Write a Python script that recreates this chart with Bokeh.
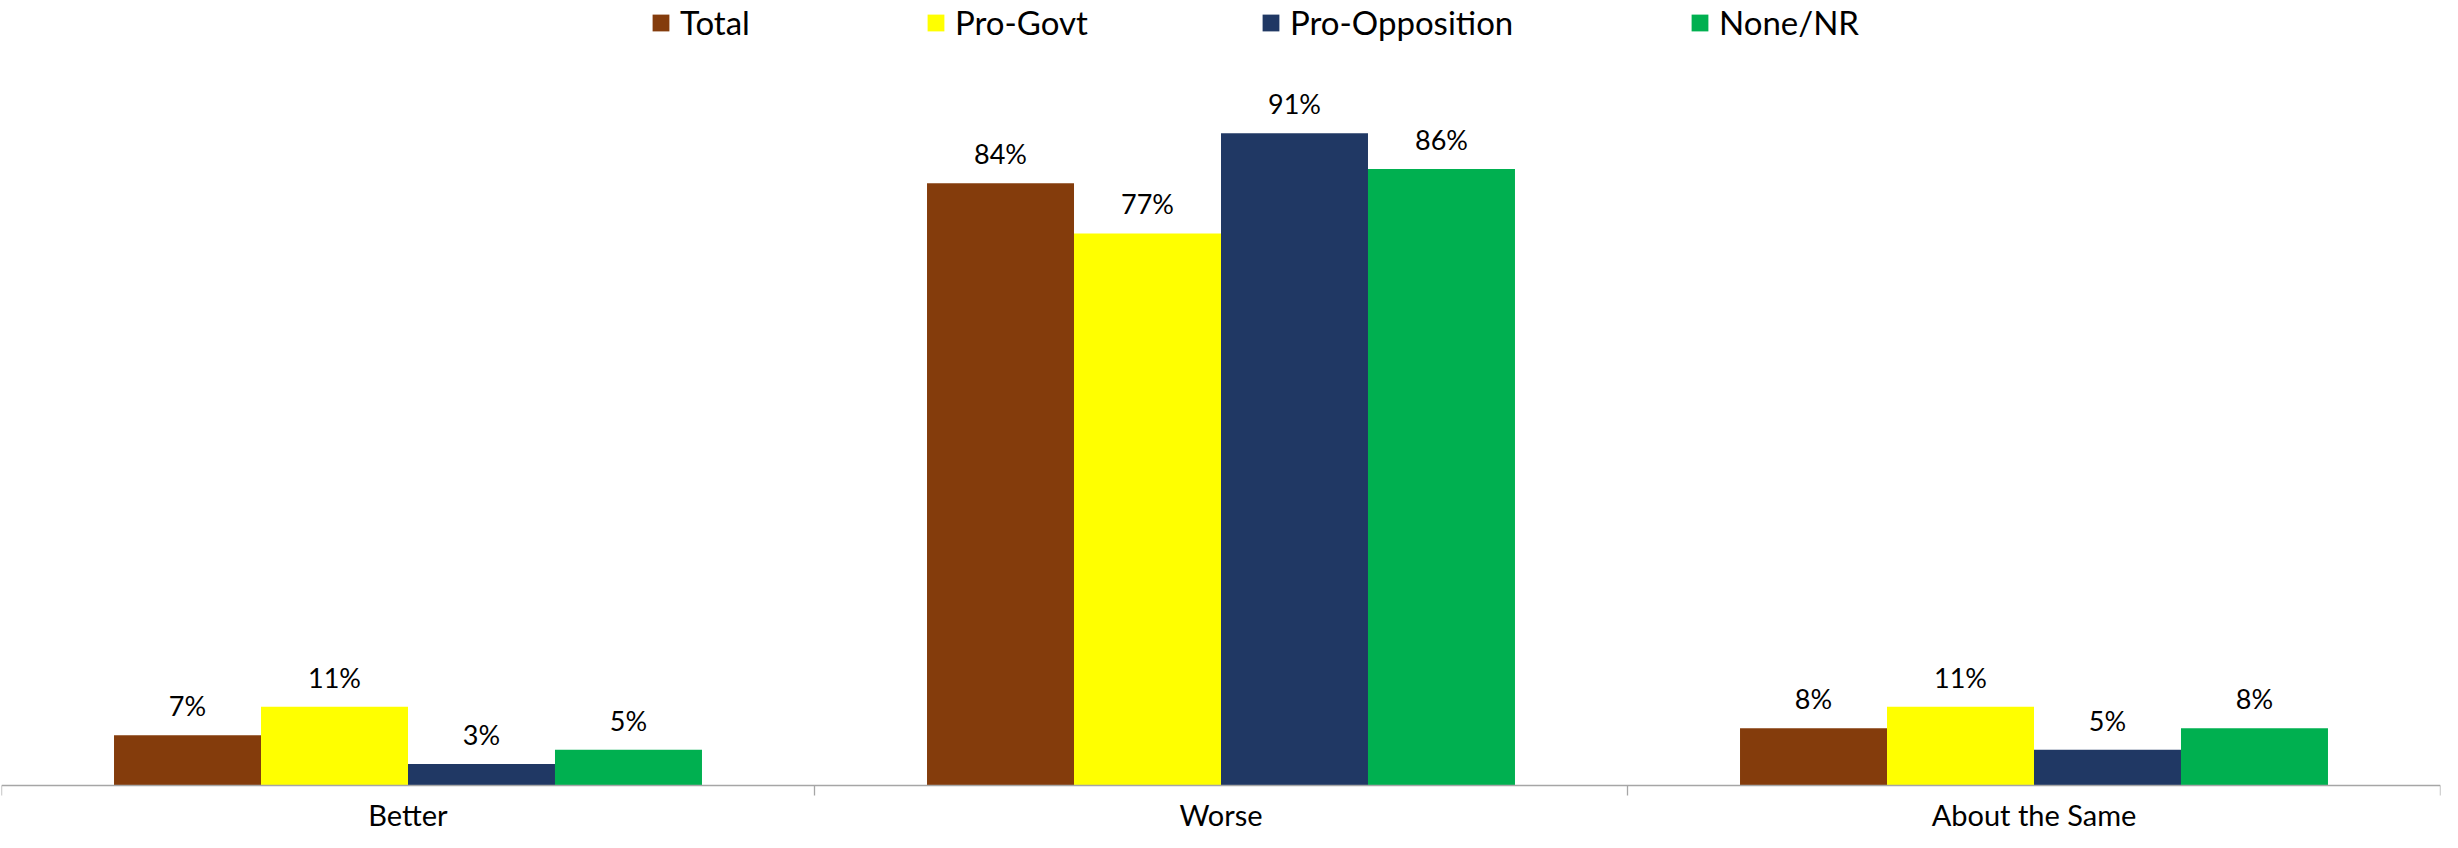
import numpy as np
from bokeh.plotting import figure
from bokeh.models import (ColumnDataSource, LabelSet, Range1d, Legend, LegendItem)
from bokeh.core.properties import value
from bokeh.embed import file_html
from bokeh.resources import INLINE

categories = ["Better", "Worse", "About the Same"]
series = ["Total", "Pro-Govt", "Pro-Opposition", "None/NR"]
total = [7, 84, 8]
pro_govt = [11, 77, 11]
pro_opposition = [3, 91, 5]
none_nr = [5, 86, 8]
colors = ["#843C0C", "#FFFF00", "#203864", "#00B050"]

values = [total, pro_govt, pro_opposition, none_nr]

FONT = "Lato"
BAR_W = 0.1808
offsets = [-1.5 * BAR_W, -0.5 * BAR_W, 0.5 * BAR_W, 1.5 * BAR_W]

# plot frame fills the figure; value 0 sits 47px above the bottom edge
H = 832
Y_TOP = 109.5
PLOT_PX = 785
PX_PER_UNIT = PLOT_PX / Y_TOP
Y_BOTTOM = -(H - PLOT_PX) / PX_PER_UNIT

p = figure(width=2442, height=H, output_backend="svg", toolbar_location=None,
           x_range=Range1d(0, len(categories)), y_range=Range1d(Y_BOTTOM, Y_TOP),
           min_border_left=1, min_border_right=2, min_border_top=0,
           min_border_bottom=0, x_axis_location=None, y_axis_location=None)
p.outline_line_color = None
p.xgrid.visible = False
p.ygrid.visible = False
p.background_fill_color = "white"

base = np.arange(len(categories)) + 0.5
renderers = []
for name, vals, col, off in zip(series, values, colors, offsets):
    src = ColumnDataSource(dict(x=base + off, top=vals,
                                lab=[f"{v}%" for v in vals]))
    r = p.vbar(x="x", top="top", bottom=0, width=BAR_W, source=src,
               fill_color=col, line_color=None)
    renderers.append(r)
    p.add_layout(LabelSet(x="x", y="top", text="lab", source=src,
                          text_align="center", text_baseline="alphabetic",
                          y_offset=19, text_font=value(FONT),
                          text_font_size="27px", text_color="#000000"))

# category axis line and boundary tick marks
bounds = np.arange(len(categories) + 1)
tick_len = 10 / PX_PER_UNIT
p.segment(x0=[bounds[0]], y0=[0], x1=[bounds[-1]], y1=[0],
          line_color="#A6A6A6", line_width=1.3)
p.segment(x0=bounds, y0=[0] * len(bounds), x1=bounds, y1=[-tick_len] * len(bounds),
          line_color="#A6A6A6", line_width=1.3)

cat_src = ColumnDataSource(dict(x=base, y=[0] * len(categories), lab=categories))
p.add_layout(LabelSet(x="x", y="y", text="lab", source=cat_src,
                      text_align="center", text_baseline="bottom",
                      y_offset=-46, text_font=value(FONT),
                      text_font_size="29px", text_color="#000000"))

# legend entries placed individually (Excel-like spacing)
legend_x = [649, 924, 1259, 1688]
for name, r, lx in zip(series, renderers, legend_x):
    lg = Legend(items=[LegendItem(label=name, renderers=[r])],
                orientation="horizontal", location=(lx, 790),
                glyph_width=21, glyph_height=21, label_standoff=9,
                padding=0, margin=0,
                label_text_font=FONT, label_text_font_size="33px",
                label_text_color="#000000",
                border_line_color=None, background_fill_alpha=0)
    p.add_layout(lg, "center")

open("out.html", "w").write(file_html(p, INLINE))
